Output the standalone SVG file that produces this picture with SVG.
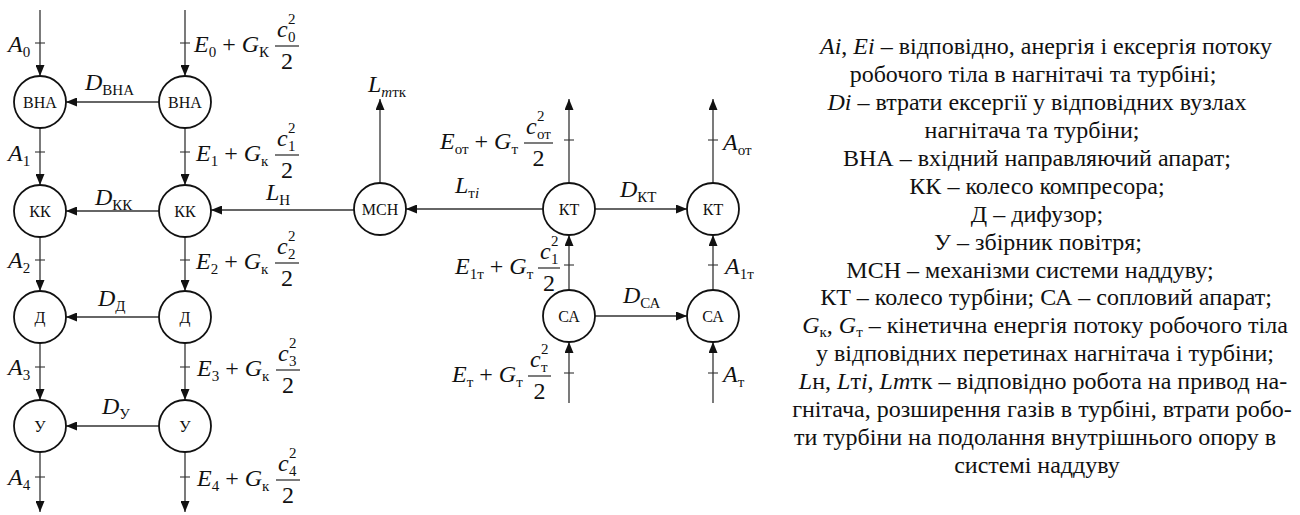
<svg xmlns="http://www.w3.org/2000/svg" width="1300" height="515" viewBox="0 0 1300 515" font-family="Liberation Serif, DejaVu Serif, serif">
<defs>
<marker id="ah" markerUnits="userSpaceOnUse" markerWidth="11" markerHeight="9" refX="11" refY="4.5" orient="auto">
<path d="M0,0 L11,4.5 L0,9 z" fill="#111"/>
</marker>
<style>
text{font-family:'Liberation Serif','DejaVu Serif',serif}
.nd{fill:#fff;stroke:#111;stroke-width:1.8}
.nl{font-size:16px;text-anchor:middle;fill:#111}
.cn{stroke:#333;stroke-width:1.3;fill:none;marker-end:url(#ah)}
.tk{stroke:#333;stroke-width:1.1}
.bar{stroke:#111;stroke-width:1.1}
.m{font-size:24px;fill:#111}
.i{font-style:italic}
.s{font-size:15px;font-style:normal}
.si{font-size:15px;font-style:italic}
.c{text-anchor:middle}
.t{font-size:24px;fill:#111;text-anchor:middle}
</style>
</defs>

<g id="connectors">
<line class="cn" x1="40" y1="10" x2="40" y2="76"/>
<line class="cn" x1="40" y1="128" x2="40" y2="185"/>
<line class="cn" x1="40" y1="237" x2="40" y2="291"/>
<line class="cn" x1="40" y1="343" x2="40" y2="400"/>
<line class="cn" x1="40" y1="452" x2="40" y2="512"/>
<line class="cn" x1="185" y1="10" x2="185" y2="76"/>
<line class="cn" x1="185" y1="128" x2="185" y2="185"/>
<line class="cn" x1="185" y1="237" x2="185" y2="291"/>
<line class="cn" x1="185" y1="343" x2="185" y2="400"/>
<line class="cn" x1="185" y1="452" x2="185" y2="512"/>
<line class="cn" x1="159" y1="102" x2="66" y2="102"/>
<line class="cn" x1="159" y1="211" x2="66" y2="211"/>
<line class="cn" x1="159" y1="317" x2="66" y2="317"/>
<line class="cn" x1="159" y1="426" x2="66" y2="426"/>
<line class="cn" x1="354" y1="210" x2="211" y2="210"/>
<line class="cn" x1="543" y1="209" x2="406" y2="209"/>
<line class="cn" x1="595" y1="209" x2="687" y2="209"/>
<line class="cn" x1="380" y1="183" x2="380" y2="99"/>
<line class="cn" x1="569" y1="183" x2="569" y2="99"/>
<line class="cn" x1="713" y1="183" x2="713" y2="99"/>
<line class="cn" x1="569" y1="290" x2="569" y2="235"/>
<line class="cn" x1="713" y1="290" x2="713" y2="235"/>
<line class="cn" x1="595" y1="316" x2="687" y2="316"/>
<line class="cn" x1="569" y1="403" x2="569" y2="342"/>
<line class="cn" x1="713" y1="403" x2="713" y2="342"/>
<g id="ticks">
<line class="tk" x1="35" y1="43" x2="45" y2="43"/>
<line class="tk" x1="35" y1="152" x2="45" y2="152"/>
<line class="tk" x1="35" y1="260" x2="45" y2="260"/>
<line class="tk" x1="35" y1="367" x2="45" y2="367"/>
<line class="tk" x1="35" y1="477" x2="45" y2="477"/>
<line class="tk" x1="180" y1="43" x2="190" y2="43"/>
<line class="tk" x1="180" y1="152" x2="190" y2="152"/>
<line class="tk" x1="180" y1="260" x2="190" y2="260"/>
<line class="tk" x1="180" y1="367" x2="190" y2="367"/>
<line class="tk" x1="180" y1="477" x2="190" y2="477"/>
<line class="tk" x1="564" y1="140" x2="574" y2="140"/>
<line class="tk" x1="564" y1="265" x2="574" y2="265"/>
<line class="tk" x1="564" y1="373" x2="574" y2="373"/>
<line class="tk" x1="708" y1="140" x2="718" y2="140"/>
<line class="tk" x1="708" y1="265" x2="718" y2="265"/>
<line class="tk" x1="708" y1="373" x2="718" y2="373"/>
</g>
</g>

<g id="n-vna-a"><circle class="nd" cx="40" cy="102" r="26"/><text class="nl" x="40" y="108">ВНА</text></g>
<g id="n-vna-e"><circle class="nd" cx="185" cy="102" r="26"/><text class="nl" x="185" y="108">ВНА</text></g>
<g id="n-kk-a"><circle class="nd" cx="40" cy="211" r="26"/><text class="nl" x="40" y="217">КК</text></g>
<g id="n-kk-e"><circle class="nd" cx="185" cy="211" r="26"/><text class="nl" x="185" y="217">КК</text></g>
<g id="n-d-a"><circle class="nd" cx="40" cy="317" r="26"/><text class="nl" x="40" y="323">Д</text></g>
<g id="n-d-e"><circle class="nd" cx="185" cy="317" r="26"/><text class="nl" x="185" y="323">Д</text></g>
<g id="n-u-a"><circle class="nd" cx="40" cy="426" r="26"/><text class="nl" x="40" y="432">У</text></g>
<g id="n-u-e"><circle class="nd" cx="185" cy="426" r="26"/><text class="nl" x="185" y="432">У</text></g>
<g id="n-msn"><circle class="nd" cx="380" cy="209" r="26"/><text class="nl" x="380" y="215">МСН</text></g>
<g id="n-kt-e"><circle class="nd" cx="569" cy="209" r="26"/><text class="nl" x="569" y="215">КТ</text></g>
<g id="n-kt-a"><circle class="nd" cx="713" cy="209" r="26"/><text class="nl" x="713" y="215">КТ</text></g>
<g id="n-sa-e"><circle class="nd" cx="569" cy="316" r="26"/><text class="nl" x="569" y="322">СА</text></g>
<g id="n-sa-a"><circle class="nd" cx="713" cy="316" r="26"/><text class="nl" x="713" y="322">СА</text></g>

<g id="labels">
<text class="m i" x="8" y="52">A<tspan class="s" dy="5">0</tspan></text>
<text class="m i" x="8" y="161">A<tspan class="s" dy="5">1</tspan></text>
<text class="m i" x="8" y="268">A<tspan class="s" dy="5">2</tspan></text>
<text class="m i" x="8" y="375">A<tspan class="s" dy="5">3</tspan></text>
<text class="m i" x="8" y="485">A<tspan class="s" dy="5">4</tspan></text>

<text class="m" x="194" y="52"><tspan class="i">E</tspan><tspan class="s" dy="5">0</tspan><tspan dy="-5"> + </tspan><tspan class="i">G</tspan><tspan class="s" dy="5">К</tspan></text>
<text class="m i" x="277" y="37">c</text><text class="m s" x="288" y="24">2</text><text class="m s" x="288" y="42">0</text>
<line class="bar" x1="275" y1="46" x2="299" y2="46"/><text class="m c" x="287" y="69">2</text>

<text class="m" x="196" y="161"><tspan class="i">E</tspan><tspan class="s" dy="5">1</tspan><tspan dy="-5"> + </tspan><tspan class="i">G</tspan><tspan class="s" dy="5">к</tspan></text>
<text class="m i" x="277" y="146">c</text><text class="m s" x="288" y="133">2</text><text class="m s" x="288" y="151">1</text>
<line class="bar" x1="275" y1="155" x2="299" y2="155"/><text class="m c" x="287" y="178">2</text>

<text class="m" x="196" y="269"><tspan class="i">E</tspan><tspan class="s" dy="5">2</tspan><tspan dy="-5"> + </tspan><tspan class="i">G</tspan><tspan class="s" dy="5">к</tspan></text>
<text class="m i" x="277" y="254">c</text><text class="m s" x="288" y="241">2</text><text class="m s" x="288" y="259">2</text>
<line class="bar" x1="275" y1="263" x2="299" y2="263"/><text class="m c" x="287" y="286">2</text>

<text class="m" x="197" y="376"><tspan class="i">E</tspan><tspan class="s" dy="5">3</tspan><tspan dy="-5"> + </tspan><tspan class="i">G</tspan><tspan class="s" dy="5">к</tspan></text>
<text class="m i" x="278" y="361">c</text><text class="m s" x="289" y="348">2</text><text class="m s" x="289" y="366">3</text>
<line class="bar" x1="276" y1="370" x2="300" y2="370"/><text class="m c" x="288" y="393">2</text>

<text class="m" x="197" y="486"><tspan class="i">E</tspan><tspan class="s" dy="5">4</tspan><tspan dy="-5"> + </tspan><tspan class="i">G</tspan><tspan class="s" dy="5">к</tspan></text>
<text class="m i" x="278" y="471">c</text><text class="m s" x="289" y="458">2</text><text class="m s" x="289" y="476">4</text>
<line class="bar" x1="276" y1="480" x2="300" y2="480"/><text class="m c" x="288" y="503">2</text>

<text class="m i" x="85" y="90">D<tspan class="s" dy="5">ВНА</tspan></text>
<text class="m i" x="95" y="205">D<tspan class="s" dy="5">КК</tspan></text>
<text class="m i" x="98" y="306">D<tspan class="s" dy="5">Д</tspan></text>
<text class="m i" x="102" y="414">D<tspan class="s" dy="5">У</tspan></text>
<text class="m i" x="266" y="200">L<tspan class="s" dy="5">Н</tspan></text>
<text class="m i" x="368" y="92">L<tspan class="si" dy="5">m</tspan><tspan class="s">тк</tspan></text>
<text class="m i" x="455" y="193">L<tspan class="s" dy="5">т</tspan><tspan class="si">i</tspan></text>
<text class="m i" x="620" y="197">D<tspan class="s" dy="5">КТ</tspan></text>
<text class="m i" x="623" y="303">D<tspan class="s" dy="5">СА</tspan></text>

<text class="m i" x="723" y="150">A<tspan class="s" dy="5">от</tspan></text>
<text class="m i" x="725" y="274">A<tspan class="s" dy="5">1т</tspan></text>
<text class="m i" x="723" y="382">A<tspan class="s" dy="5">т</tspan></text>

<text class="m" x="440" y="149"><tspan class="i">E</tspan><tspan class="s" dy="5">от</tspan><tspan dy="-5"> + </tspan><tspan class="i">G</tspan><tspan class="s" dy="5">т</tspan></text>
<text class="m i" x="526" y="134">c</text><text class="m s" x="537" y="121">2</text><text class="m s" x="537" y="139">от</text>
<line class="bar" x1="524" y1="143" x2="553" y2="143"/><text class="m c" x="538.5" y="166">2</text>

<text class="m" x="455" y="274"><tspan class="i">E</tspan><tspan class="s" dy="5">1т</tspan><tspan dy="-5"> + </tspan><tspan class="i">G</tspan><tspan class="s" dy="5">т</tspan></text>
<text class="m i" x="540" y="259">c</text><text class="m s" x="551" y="246">2</text><text class="m s" x="551" y="264">1</text>
<line class="bar" x1="538" y1="268" x2="560" y2="268"/><text class="m c" x="549" y="291">2</text>

<text class="m" x="452" y="382"><tspan class="i">E</tspan><tspan class="s" dy="5">т</tspan><tspan dy="-5"> + </tspan><tspan class="i">G</tspan><tspan class="s" dy="5">т</tspan></text>
<text class="m i" x="530" y="367">c</text><text class="m s" x="541" y="354">2</text><text class="m s" x="541" y="372">т</text>
<line class="bar" x1="528" y1="376" x2="551" y2="376"/><text class="m c" x="539.5" y="399">2</text>
</g>

<g id="legend">
<text class="t" x="1046" y="54"><tspan font-style="italic">Ai</tspan>, <tspan font-style="italic">Ei</tspan> – відповідно, анергія і ексергія потоку</text>
<text class="t" x="1033" y="82">робочого тіла в нагнітачі та турбіні;</text>
<text class="t" x="1037" y="110"><tspan font-style="italic">Di</tspan> – втрати ексергії у відповідних вузлах</text>
<text class="t" x="1032" y="138">нагнітача та турбіни;</text>
<text class="t" x="1037" y="166">ВНА – вхідний направляючий апарат;</text>
<text class="t" x="1037" y="194">КК – колесо компресора;</text>
<text class="t" x="1037" y="222">Д – дифузор;</text>
<text class="t" x="1038" y="250">У – збірник повітря;</text>
<text class="t" x="1030" y="278">МСН – механізми системи наддуву;</text>
<text class="t" x="1046" y="305">КТ – колесо турбіни; СА – сопловий апарат;</text>
<text class="t" x="1045" y="333"><tspan font-style="italic">G</tspan><tspan font-size="15" dy="4">к</tspan><tspan dy="-4">, </tspan><tspan font-style="italic">G</tspan><tspan font-size="15" dy="4">т</tspan><tspan dy="-4"> – кінетична енергія потоку робочого тіла</tspan></text>
<text class="t" x="1045" y="361">у відповідних перетинах нагнітача і турбіни;</text>
<text class="t" x="1043" y="389"><tspan font-style="italic">L</tspan>н, <tspan font-style="italic">L</tspan>т<tspan font-style="italic">i</tspan>, <tspan font-style="italic">Lm</tspan>тк – відповідно робота на привод на-</text>
<text class="t" x="1042" y="417">гнітача, розширення газів в турбіні, втрати робо-</text>
<text class="t" x="1035" y="445">ти турбіни на подолання внутрішнього опору в</text>
<text class="t" x="1037" y="473">системі наддуву</text>
</g>
</svg>
